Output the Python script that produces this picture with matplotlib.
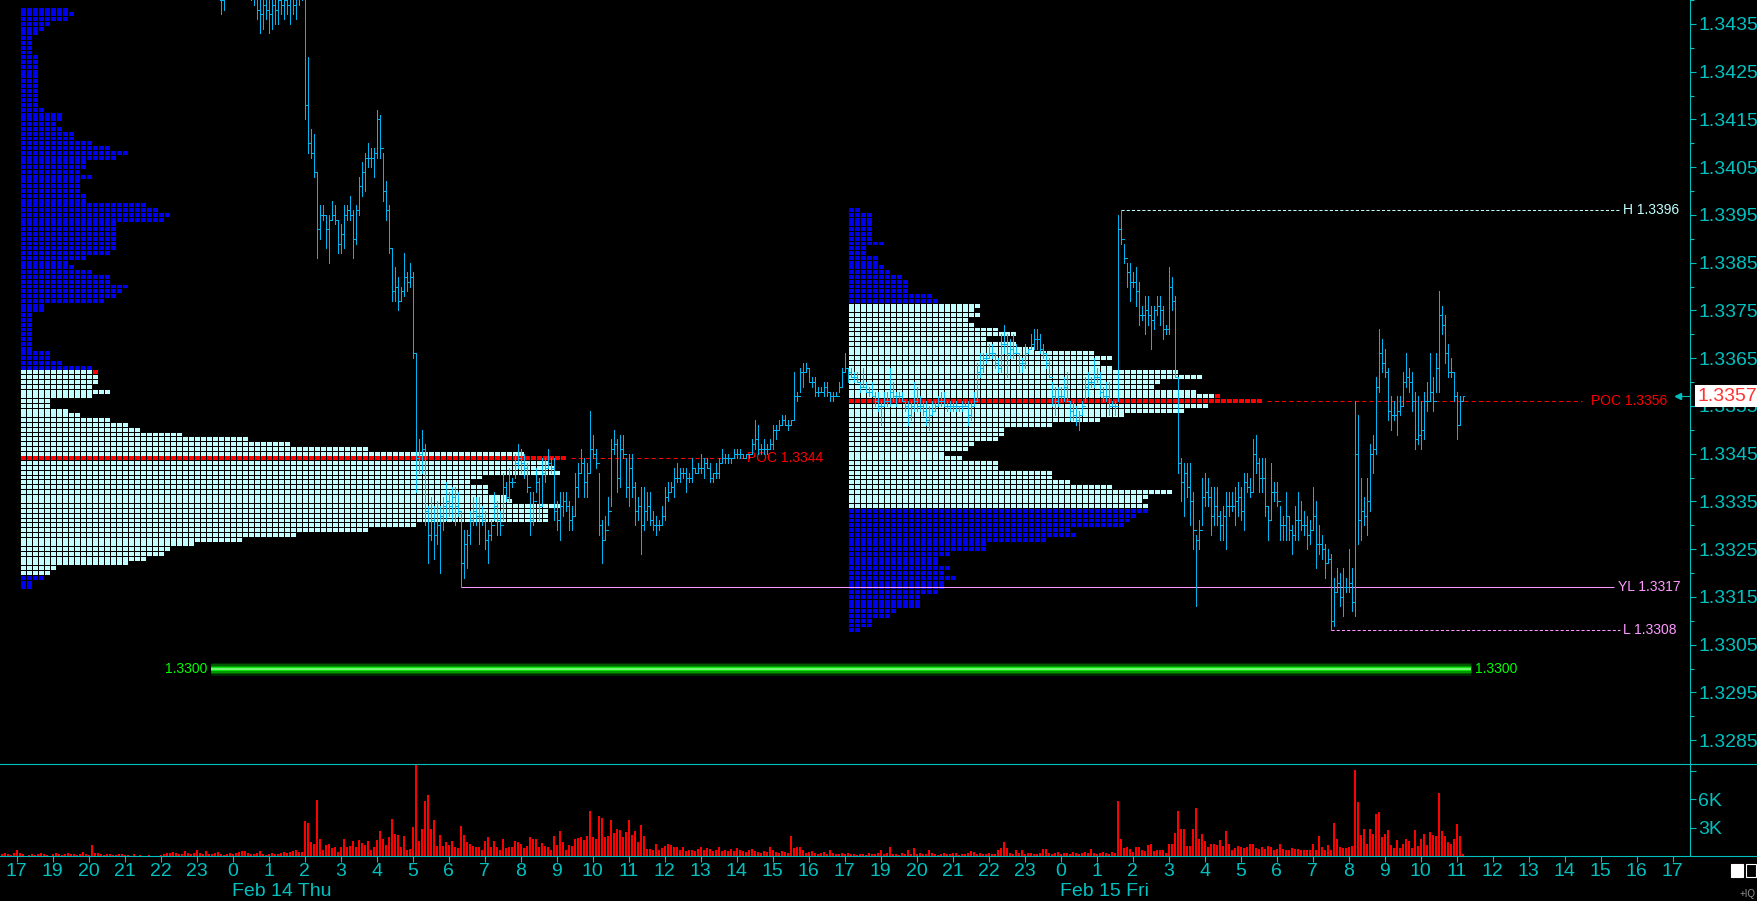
#!/usr/bin/env python3
import matplotlib
matplotlib.use("Agg")
import matplotlib.pyplot as plt
import numpy as np
from matplotlib.collections import LineCollection, PolyCollection
from matplotlib.lines import Line2D
from matplotlib.patches import Rectangle
from matplotlib.transforms import blended_transform_factory

BASE = 1.3300   # all prices below are pips above this
PIP = 0.0001

# time axis: one slot per hour label
hour_labels = ["17", "19", "20", "21", "22", "23",
               "0", "1", "2", "3", "4", "5", "6", "7", "8", "9", "10", "11",
               "12", "13", "14", "15", "16", "17",
               "19", "20", "21", "22", "23",
               "0", "1", "2", "3", "4", "5", "6", "7", "8", "9", "10", "11",
               "12", "13", "14", "15", "16", "17"]
date_labels = ["Feb 14 Thu", "Feb 15 Fri"]
date_slots = [6, 29]

# 5 minute bars, pips above 1.3300 (first bar 23:40 Feb 13)
bar_hi = [145, 144, 147, 148, 149, 150, 151, 150, 149, 148, 147, 146,
          142, 141, 141, 142, 140, 141, 142, 141, 143, 142, 143, 141, 144, 142, 143, 144,
          140, 128, 113, 112, 104, 97, 97, 95, 95, 98, 97, 94, 93, 97, 97, 99, 96, 97, 103, 106,
          108, 110, 109, 109, 117, 116, 108, 102, 97, 88, 84, 82, 80, 87, 83, 85, 83, 66, 48, 50,
          47, 34, 36, 34, 35, 34, 36, 39, 37, 38, 38, 37, 33, 29, 29, 33, 36, 36, 36, 34,
          33, 29, 31, 37, 35, 33, 41, 39, 42, 40, 45, 47, 46, 45, 43, 37, 37, 42, 40, 44,
          44, 46, 44, 44, 35, 37, 37, 37, 35, 34, 41, 43, 46, 44, 43, 54, 49, 46, 41, 31,
          32, 36, 48, 50, 48, 49, 49, 44, 45, 45, 39, 36, 38, 38, 37, 37, 33, 32, 31, 34,
          38, 39, 39, 42, 43, 42, 42, 42, 41, 44, 42, 43, 45, 44, 44, 43, 41, 43, 44, 46,
          45, 45, 44, 46, 46, 46, 45, 45, 45, 48, 52, 51, 47, 48, 47, 48, 51, 51, 52, 53,
          53, 52, 52, 62, 58, 63, 64, 64, 63, 61, 61, 59, 59, 60, 60, 58, 58, 58, 60, 63,
          66, 63, 63, 62, 62, 60, 63, 60, 59, 60, 58, 58, 56, 58, 58, 63, 60, 58, 58, 58,
          56, 56, 56, 60, 59, 57, 56, 56, 55, 56, 56, 57, 58, 58, 56, 56, 56, 56, 55, 56,
          56, 56, 56, 58, 64, 66, 66, 66, 68, 68, 66, 65, 70, 72, 70, 69, 70, 68, 66, 65,
          68, 67, 70, 71, 71, 70, 68, 66, 65, 60, 59, 59, 59, 61, 62, 56, 56, 55, 54, 56,
          61, 62, 61, 65, 63, 62, 59, 60, 60, 56, 56, 95, 96, 89, 85, 85, 83, 84, 81, 76,
          78, 78, 76, 76, 78, 78, 76, 72, 84, 82, 78, 61, 44, 43, 43, 43, 37, 28, 31, 40,
          41, 40, 38, 38, 38, 33, 34, 37, 37, 37, 38, 39, 38, 41, 41, 40, 48, 49, 44, 44,
          44, 34, 43, 39, 39, 34, 32, 37, 32, 30, 34, 37, 35, 33, 32, 31, 38, 35, 30, 28,
          26, 25, 24, 19, 21, 20, 21, 19, 25, 21, 56, 53, 40, 36, 40, 47, 49, 61, 71, 69,
          67, 63, 57, 56, 57, 57, 62, 66, 63, 62, 58, 57, 56, 58, 60, 66, 61, 66, 79, 76,
          74, 68, 65, 62, 58, 57, 57]
bar_lo = [137, 138, 141, 142, 143, 144, 145, 144, 142, 141, 140, 139,
          136, 133, 134, 136, 133, 134, 135, 135, 137, 136, 137, 135, 137, 136, 139, 140,
          115, 108, 107, 103, 86, 90, 94, 88, 85, 94, 93, 87, 87, 88, 94, 94, 86, 89, 95, 99,
          100, 105, 105, 103, 107, 107, 98, 94, 87, 77, 77, 75, 77, 78, 79, 80, 65, 37, 41, 41,
          30, 22, 27, 23, 26, 20, 29, 31, 32, 31, 30, 32, 17, 19, 21, 26, 30, 30, 26, 30,
          25, 22, 27, 31, 28, 28, 31, 35, 35, 38, 40, 42, 41, 40, 37, 28, 30, 37, 31, 34,
          39, 42, 41, 31, 29, 27, 32, 33, 29, 29, 32, 36, 41, 36, 36, 41, 44, 42, 28, 22,
          27, 30, 34, 45, 37, 38, 44, 36, 34, 36, 30, 31, 24, 29, 31, 30, 29, 28, 29, 30,
          31, 35, 37, 36, 39, 39, 40, 37, 39, 39, 41, 41, 41, 40, 42, 39, 39, 40, 40, 43,
          43, 43, 43, 44, 44, 44, 44, 44, 44, 45, 46, 45, 45, 45, 45, 46, 46, 48, 50, 51,
          51, 50, 51, 52, 56, 58, 59, 62, 60, 59, 57, 57, 58, 57, 57, 56, 56, 57, 58, 59,
          62, 60, 61, 60, 60, 58, 59, 58, 57, 57, 55, 54, 51, 55, 55, 55, 56, 55, 56, 56,
          54, 51, 52, 54, 54, 54, 53, 51, 50, 53, 54, 55, 55, 55, 54, 54, 54, 54, 54, 54,
          55, 51, 52, 55, 56, 61, 62, 64, 65, 65, 63, 62, 62, 66, 61, 65, 65, 66, 62, 62,
          63, 66, 67, 67, 67, 66, 65, 63, 61, 55, 53, 55, 56, 56, 56, 52, 52, 51, 50, 53,
          56, 57, 59, 59, 60, 57, 56, 56, 53, 55, 53, 56, 89, 85, 80, 77, 80, 76, 72, 73,
          70, 72, 67, 71, 74, 72, 69, 70, 70, 75, 61, 41, 35, 32, 36, 30, 25, 13, 25, 30,
          34, 34, 28, 30, 30, 27, 27, 25, 32, 33, 30, 32, 31, 29, 37, 36, 37, 41, 37, 37,
          32, 27, 31, 35, 34, 27, 27, 27, 27, 24, 27, 27, 29, 28, 25, 26, 29, 21, 24, 23,
          19, 22, 8, 9, 16, 13, 11, 16, 16, 12, 11, 26, 27, 30, 28, 33, 41, 45, 58, 62,
          61, 52, 50, 52, 49, 53, 55, 59, 58, 54, 46, 47, 46, 48, 54, 56, 54, 58, 58, 70,
          64, 61, 61, 56, 48, 51, 56]
bar_cl = [140, 141, 144, 145, 146, 147, 148, 147, 145, 144, 143, 142,
          138, 137, 139, 138, 137, 139, 138, 140, 139, 140, 139, 141, 139, 141, 141, 142,
          118, 110, 108, 104, 92, 95, 95, 92, 94, 95, 94, 89, 91, 95, 96, 95, 90, 96, 101, 104,
          107, 107, 107, 108, 115, 109, 100, 96, 88, 79, 80, 77, 79, 82, 81, 82, 66, 44, 45, 46,
          33, 28, 31, 28, 30, 32, 34, 35, 34, 36, 34, 33, 22, 26, 28, 31, 33, 32, 32, 31,
          27, 28, 30, 34, 31, 30, 38, 36, 39, 39, 43, 44, 43, 42, 38, 31, 35, 39, 34, 41,
          42, 43, 42, 33, 31, 34, 35, 34, 31, 32, 38, 41, 43, 39, 41, 46, 45, 43, 30, 27,
          29, 33, 46, 47, 40, 46, 45, 38, 42, 38, 33, 34, 30, 33, 34, 31, 30, 30, 30, 32,
          36, 37, 38, 40, 40, 41, 41, 40, 40, 42, 41, 42, 42, 43, 42, 40, 41, 41, 43, 44,
          44, 44, 44, 45, 45, 45, 44, 45, 45, 47, 48, 46, 46, 46, 46, 47, 50, 50, 51, 52,
          51, 51, 52, 57, 57, 62, 62, 63, 60, 60, 58, 58, 58, 59, 58, 57, 57, 57, 59, 62,
          63, 62, 61, 61, 60, 59, 59, 58, 58, 57, 56, 55, 55, 56, 56, 58, 57, 57, 57, 56,
          55, 53, 55, 56, 55, 55, 54, 52, 53, 54, 55, 56, 56, 55, 55, 55, 55, 55, 55, 55,
          55, 53, 55, 56, 62, 63, 65, 65, 66, 66, 64, 63, 68, 68, 66, 67, 66, 66, 64, 64,
          66, 67, 68, 69, 69, 67, 66, 64, 61, 57, 56, 57, 57, 59, 56, 54, 53, 52, 53, 55,
          59, 60, 60, 61, 61, 58, 57, 57, 55, 55, 55, 92, 90, 86, 83, 81, 81, 79, 74, 74,
          75, 74, 73, 75, 76, 75, 71, 71, 80, 77, 61, 43, 39, 41, 38, 35, 29, 27, 29, 36,
          37, 36, 32, 34, 32, 30, 32, 34, 34, 34, 35, 36, 33, 39, 38, 37, 45, 43, 40, 40,
          34, 31, 37, 37, 35, 30, 30, 32, 29, 28, 31, 31, 30, 30, 28, 29, 32, 26, 26, 25,
          22, 23, 10, 16, 18, 15, 17, 17, 18, 14, 45, 31, 33, 32, 35, 45, 46, 59, 66, 64,
          62, 54, 53, 53, 54, 55, 60, 61, 60, 56, 48, 49, 50, 56, 56, 58, 56, 63, 74, 72,
          66, 62, 62, 57, 51, 56, 57]

# 5 minute volume in hundreds (first bar 16:35 Feb 13)
vol = [2, 3, 2, 1, 3, 6, 3, 2, 0, 1, 2, 1, 2, 3, 2, 1, 0, 2, 3, 2,
       1, 2, 3, 2, 2, 1, 2, 4, 2, 1, 12, 3, 3, 2, 1, 2, 2, 1, 1, 2,
       2, 1, 1, 0, 2, 0, 1, 0, 0, 1, 0, 0, 0, 1, 2, 3, 3, 4, 3, 2,
       2, 5, 3, 2, 3, 6, 3, 2, 5, 2, 2, 3, 4, 2, 1, 2, 3, 2, 3, 4,
       5, 5, 3, 2, 2, 3, 5, 2, 1, 2, 3, 2, 2, 3, 4, 3, 4, 5, 6, 4, 4,
       37, 35, 15, 13, 59, 18, 6, 12, 13, 8, 9, 4, 9, 18, 9, 11, 16, 10, 17, 14,
       12, 16, 6, 9, 17, 26, 18, 12, 20, 39, 23, 22, 9, 21, 6, 7, 31, 96, 16, 29,
       58, 64, 29, 38, 11, 22, 11, 15, 12, 16, 9, 8, 32, 22, 15, 13, 11, 9, 9, 6,
       16, 20, 10, 16, 9, 6, 18, 8, 9, 9, 16, 15, 13, 8, 11, 20, 18, 18, 9, 14,
       11, 9, 6, 21, 12, 26, 15, 6, 12, 11, 18, 19, 20, 17, 21, 47, 20, 18, 42, 40,
       20, 21, 38, 24, 29, 27, 20, 25, 38, 22, 26, 15, 33, 21, 7, 7, 6, 13, 6, 8,
       11, 13, 12, 9, 10, 6, 9, 5, 6, 6, 5, 7, 9, 6, 8, 7, 5, 6, 9, 5,
       6, 5, 7, 5, 8, 6, 5, 4, 6, 7, 5, 4, 3, 5, 4, 10, 6, 4, 3, 5,
       4, 3, 21, 8, 10, 10, 6, 3, 4, 5, 3, 2, 3, 4, 2, 6, 3, 2, 2, 3, 2, 3,
       2, 2, 1, 2, 2, 1, 3, 2, 2, 3, 6, 2, 3, 9, 2, 2, 1, 3, 2, 6,
       2, 8, 2, 3, 2, 2, 6, 3, 2, 1, 2, 3, 2, 2, 3, 3, 1, 2, 2, 3,
       5, 4, 2, 3, 2, 2, 3, 2, 2, 6, 8, 15, 8, 3, 2, 6, 3, 6, 2, 3,
       3, 2, 2, 3, 7, 7, 3, 2, 3, 4, 2, 3, 3, 2, 4, 3, 2, 3, 4, 3,
       7, 3, 2, 3, 4, 3, 2, 4, 3,
       58, 18, 8, 9, 7, 4, 9, 9, 6, 5, 12, 13, 5, 6, 6, 6, 3, 13, 13, 24,
       48, 29, 28, 11, 11, 28, 51, 18, 23, 16, 9, 13, 13, 12, 17, 11, 26, 13, 6, 8,
       11, 9, 8, 9, 13, 13, 8, 7, 9, 7, 11, 9, 6, 7, 13, 7, 6, 6, 8, 7,
       7, 6, 6, 6, 6, 13, 6, 21, 9, 6, 12, 6, 35, 18, 9, 8, 8, 9, 11, 91,
       57, 22, 29, 13, 28, 23, 44, 46, 20, 23, 27, 12, 8, 17, 8, 13, 18, 16, 8, 27,
       11, 18, 23, 12, 25, 22, 21, 66, 26, 21, 15, 13, 18, 34, 21, 2]

# session profiles: blocks per one-pip row, from the top row down
prof1_top = 138
prof1 = [8, 9, 8, 5, 4, 3, 2, 2, 2, 2,
         3, 3, 3, 3, 3, 3, 3, 3, 3, 3,
         3, 4, 7, 7, 6, 7, 9, 9, 12, 15,
         18, 16, 11, 11, 10, 12, 10, 10, 10, 11,
         11, 21, 23, 25, 24, 16, 16, 16, 16, 16,
         16, 15, 11, 8, 9, 12, 15, 15, 18, 17,
         16, 14, 4, 4, 2, 2, 2, 2, 2, 2,
         2, 2, 5, 5, 7, 12, 13, 13, 13, 12,
         15, 12, 5, 5, 8, 10, 15, 18, 20, 27,
         38, 45, 58, 84, 91, 88, 89, 90, 77, 75,
         78, 78, 81, 82, 90, 88, 88, 88, 66, 58,
         46, 37, 29, 25, 24, 21, 18, 6, 5, 4,
         2, 2]
prof1_va = (20, 62)
prof1_poc = 44
prof1_mark = 62

prof2_top = 96
prof2 = [2, 4, 4, 4, 4, 4, 4, 6, 3, 3,
         5, 5, 6, 7, 9, 10, 10, 10, 14, 15,
         22, 21, 22, 20, 21, 25, 28, 23, 28, 31,
         41, 44, 42, 44, 55, 59, 52, 51, 58, 62,
         69, 60, 56, 46, 42, 34, 26, 26, 25, 21,
         20, 16, 19, 25, 25, 34, 34, 37, 44, 54,
         50, 49, 50, 50, 48, 47, 46, 37, 38, 33,
         23, 23, 17, 15, 15, 17, 16, 18, 16, 16,
         15, 12, 12, 12, 8, 7, 4, 4, 2]
prof2_va = (34, 76)
prof2_poc = 56
prof2_mark = 57

round_level = 0     # the 1.3300 line

# colours
BG = "black"
CYAN = "#00C0C0"
BAR_COL = "#00B4F0"
VA_COL = "#C0FFFF"
OUT_COL = "#0000F0"
RED = "#FF0000"
PINK = "#FF99FF"
GREEN = "#00FF00"

# layout (pixels of the 1757 x 901 picture)
W, H = 1757, 901
SLOT_PX = 36.0
X0_PX = 16.8
PX = 1.0 / SLOT_PX          # one pixel in slot units
BLOCK = 6 * PX
BLOCK_W = 5 * PX
PROF_PAD = 4 * PX
BAR_SLOT0 = 8 - 28 / 12      # first price bar
VOL_SLOT0 = 8 - 101 / 12     # first volume bar
NARROW = ["Liberation Sans Narrow", "Liberation Sans", "DejaVu Sans"]

plt.rcParams["font.family"] = ["Liberation Sans", "DejaVu Sans"]


def price(p):
    return BASE + np.asarray(p, dtype=float) * PIP


def draw_profile(ax, start, top, counts, va, poc, mark):
    """ Draw a block profile, return the slot where the POC row ends """
    verts, colors = [], []
    for i, n in enumerate(counts):
        p = top - i
        if p == poc:
            c = RED
        elif va[0] <= p <= va[1]:
            c = VA_COL
        else:
            c = OUT_COL
        y0, y1 = price(p - 0.41), price(p + 0.41)
        for j in range(n):
            x0 = start + j * BLOCK
            x1 = x0 + BLOCK_W
            verts.append([(x0, y0), (x1, y0), (x1, y1), (x0, y1)])
            colors.append(RED if (p == mark and j == n - 1) else c)
    ax.add_collection(PolyCollection(verts, facecolors=colors, edgecolors="none",
                                     antialiased=False, zorder=1))
    return start + counts[top - poc] * BLOCK


def draw_bars(ax):
    n = len(bar_hi)
    x = BAR_SLOT0 + np.arange(n) / 12.0
    op = [bar_cl[0]] + bar_cl[:-1]
    t = 1.0 * PX
    segs = []
    for xi, h, l, o, c in zip(x, bar_hi, bar_lo, op, bar_cl):
        segs.append([(xi, price(l)), (xi, price(h))])
        segs.append([(xi - t, price(o)), (xi, price(o))])
        segs.append([(xi, price(c)), (xi + t, price(c))])
    ax.add_collection(LineCollection(segs, colors=BAR_COL, linewidths=0.6,
                                     antialiased=False, zorder=4))
    return x


def level(ax, p, x0, x1, color, style, label, lx):
    ax.hlines(price(p), x0, x1, colors=color, linewidth=0.75, linestyles=style, zorder=2)
    ax.text(lx, price(p), label, color=color, fontsize=10, family=NARROW,
            ha="left", va="center", zorder=3)


def main():
    assert len(bar_hi) == len(bar_lo) == len(bar_cl)

    fig = plt.figure(figsize=(W / 100, H / 100), dpi=100, facecolor=BG)
    ax = fig.add_axes([0, (H - 764) / H, 1690 / W, 764 / H])
    axv = fig.add_axes([0, (H - 856) / H, 1690 / W, 92 / H], sharex=ax)

    for a in (ax, axv):
        a.set_facecolor(BG)
        for s in ("left", "top", "bottom"):
            a.spines[s].set_visible(False)
        a.spines["right"].set_color(CYAN)
        a.spines["right"].set_linewidth(0.8)
        a.yaxis.tick_right()

    ax.set_xlim(-X0_PX / SLOT_PX, (1690 - X0_PX) / SLOT_PX)
    ax.set_ylim(1.3435 - 749 / 48555.0, 1.3435 + 15 / 48555.0)

    # profiles
    s1 = 0 + PROF_PAD
    s2 = 23 + PROF_PAD
    poc1_end = draw_profile(ax, s1, prof1_top, prof1, prof1_va, prof1_poc, prof1_mark)
    poc2_end = draw_profile(ax, s2, prof2_top, prof2, prof2_va, prof2_poc, prof2_mark)

    # bars
    x = draw_bars(ax)
    hi = np.array(bar_hi)
    lo = np.array(bar_lo)
    sess2 = x >= 23
    i_h = np.where(sess2)[0][np.argmax(hi[sess2])]
    i_l = np.where(sess2)[0][np.argmin(lo[sess2])]
    i_yl = np.where(~sess2)[0][np.argmin(lo[~sess2])]

    level(ax, hi[i_h], x[i_h], 44.53, VA_COL, (0, (3, 2)),
          f"H {BASE + hi[i_h] * PIP:.4f}", 44.62)
    level(ax, lo[i_yl], x[i_yl], 44.36, PINK, "solid",
          f"YL {BASE + lo[i_yl] * PIP:.4f}", 44.47)
    level(ax, lo[i_l], x[i_l], 44.53, PINK, (0, (3, 2)),
          f"L {BASE + lo[i_l] * PIP:.4f}", 44.62)
    level(ax, prof2_poc, poc2_end + 4 * PX, 43.47, RED, (0, (4, 3)),
          f"POC {BASE + prof2_poc * PIP:.4f}", 43.72)
    level(ax, prof1_poc, poc1_end + 4 * PX, 20.17, RED, (0, (4, 3)),
          f"POC {BASE + prof1_poc * PIP:.4f}", 20.28)

    # glowing 1.3300 line
    g0, g1 = 5.386, 40.39
    for lw, c in [(13, "#002800"), (10, "#005a00"), (7, "#009a00"), (4, "#10e010"), (1.5, "#90ff90")]:
        ax.hlines(price(round_level), g0, g1, colors=c, linewidth=lw * 0.72, zorder=2)
    lab = f"{BASE + round_level * PIP:.4f}"
    ax.text(g0 - 3 * PX, price(round_level), lab, color=GREEN, fontsize=10, family=NARROW,
            ha="right", va="center")
    ax.text(g1 + 4 * PX, price(round_level), lab, color=GREEN, fontsize=10, family=NARROW,
            ha="left", va="center")

    # price axis
    major = np.round(np.arange(1.3285, 1.34351, 0.001), 4)
    minor = np.round(np.arange(1.3280, 1.34401, 0.001), 4)
    ax.set_yticks(major)
    ax.set_yticklabels([f"{v:.4f}" for v in major])
    ax.set_yticks(minor, minor=True)
    ax.tick_params(axis="y", which="major", direction="out", length=4, width=0.8,
                   color=CYAN, labelcolor=CYAN, labelsize=14, pad=2)
    ax.tick_params(axis="y", which="minor", direction="out", length=3, width=0.8, color=CYAN)
    ax.tick_params(axis="x", which="both", bottom=False, labelbottom=False)

    # last price marker
    tr = blended_transform_factory(ax.transAxes, ax.transData)
    last = price(bar_cl[-1])
    ax.text(1 + 7 / 1690, last, f"{last:.4f}", transform=tr, color="#FF3333", fontsize=14,
            ha="left", va="center", clip_on=False, zorder=10,
            bbox=dict(boxstyle="square,pad=0.12", fc="white", ec="none"))
    ax.plot([1676 / 1690, 1689 / 1690], [last, last], transform=tr, color=CYAN,
            lw=0.8, clip_on=False)
    ax.plot([1678 / 1690], [last], transform=tr, marker="<", ms=5, color=CYAN,
            clip_on=False, lw=0)

    # volume
    xv = VOL_SLOT0 + np.arange(len(vol)) / 12.0
    axv.bar(xv, np.array(vol) * 100, width=2 * PX, color=RED, linewidth=0,
            antialiased=False)
    axv.set_ylim(0, 92 / 9.47 * 1000)
    axv.set_yticks([3000, 6000, 9000])
    axv.set_yticklabels(["3K", "6K", ""])
    axv.tick_params(axis="y", direction="out", length=4, width=0.8, color=CYAN,
                    labelcolor=CYAN, labelsize=14, pad=2)
    axv.set_xticks(range(len(hour_labels)))
    axv.set_xticklabels(hour_labels)
    axv.tick_params(axis="x", direction="out", length=4, width=0.8, color=CYAN,
                    labelcolor=CYAN, labelsize=14, pad=1)

    trd = blended_transform_factory(axv.transData, fig.transFigure)
    for s, t in zip(date_slots, date_labels):
        axv.text(s - 1 * PX, (H - 891) / H, t, transform=trd, color=CYAN, fontsize=14,
                 ha="left", va="center", clip_on=False)

    # panel separators across the full width
    for yp in (764, 856):
        fig.add_artist(Line2D([0, 1], [(H - yp) / H] * 2, transform=fig.transFigure,
                              color=CYAN, lw=0.8))

    # corner widgets
    fig.add_artist(Rectangle((1731 / W, (H - 877) / H), 12 / W, 13 / H,
                             transform=fig.transFigure, fc="white", ec="white", lw=0.8))
    fig.add_artist(Rectangle((1746 / W, (H - 877) / H), 10 / W, 13 / H,
                             transform=fig.transFigure, fc="none", ec="white", lw=0.8))
    fig.text(1756 / W, 2 / H, "+IQ", color="#909090", fontsize=7, ha="right", va="bottom")

    fig.savefig("out.png", dpi=100, facecolor=BG)


if __name__ == "__main__":
    main()
